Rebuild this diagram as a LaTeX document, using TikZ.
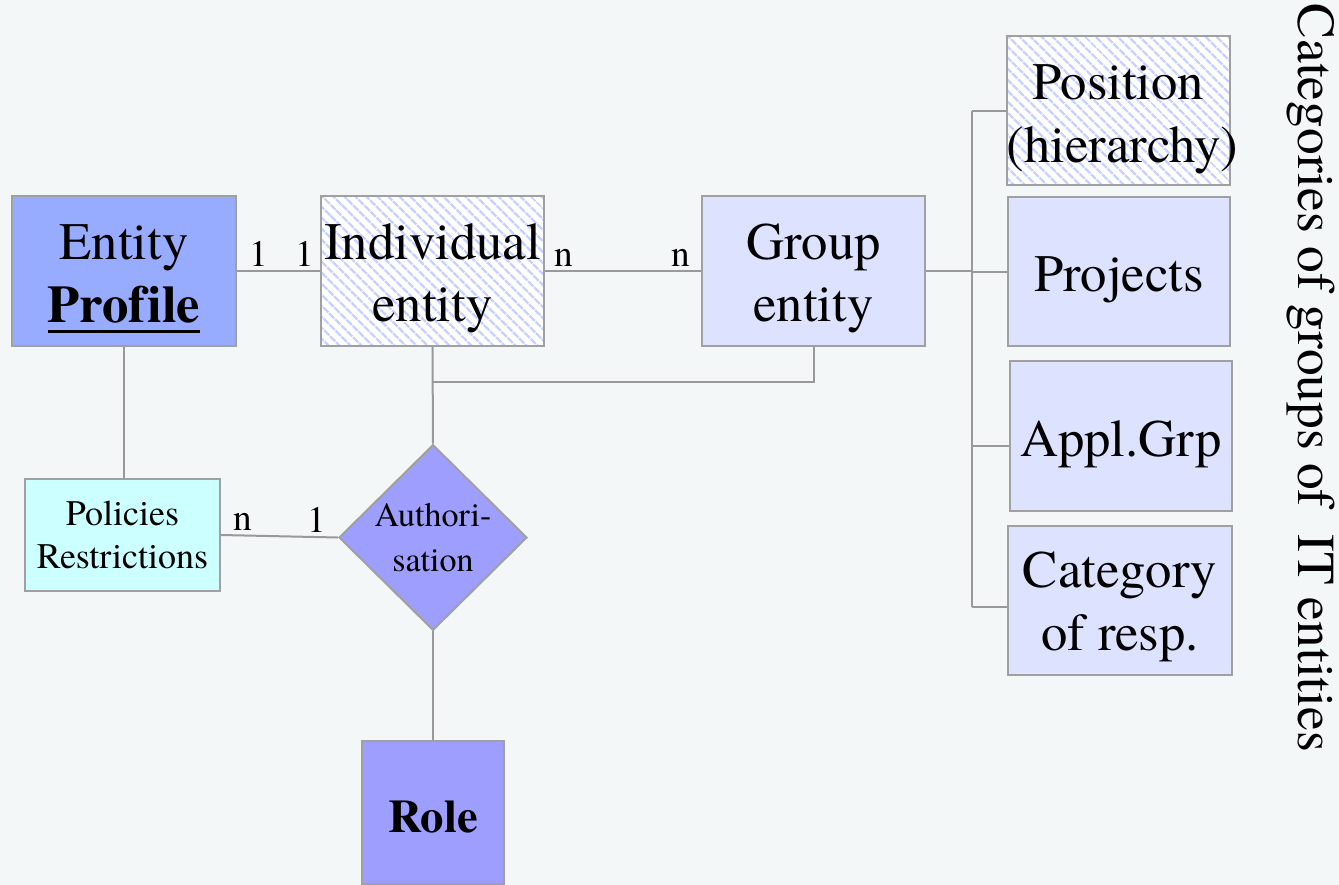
\documentclass[tikz,border=0pt]{standalone}
\usepackage{fontspec}
\setmainfont{texgyretermes}[Extension=.otf, UprightFont=*-regular, BoldFont=*-bold, Ligatures=NoCommon]
\usetikzlibrary{shapes.geometric,patterns.meta}

\definecolor{bg}{HTML}{F3F7F7}
\definecolor{profilefill}{HTML}{97ABFF}
\definecolor{groupfill}{HTML}{DDE3FF}
\definecolor{policyfill}{HTML}{CCFFFF}
\definecolor{rolefill}{HTML}{9E9EFF}
\definecolor{hatch}{HTML}{C8D2FF}
\definecolor{edgegray}{HTML}{A0A0A0}
\definecolor{linkgray}{HTML}{999999}

% bold word with a heavy underline
\newlength\ulwd
\newcommand\thickuline[1]{\settowidth{\ulwd}{#1}#1\llap{\rule[-0.2em]{\ulwd}{0.065em}}}
% tall first line, so that the text sits a little low in its box
\newcommand\topstrut[1][38pt]{\rule{0pt}{#1}}
% a line that may run past the box edges
\newcommand\overrun[1]{\makebox[0pt]{#1}}

\tikzset{
  box/.style={draw=edgegray, line width=1.5pt, align=center, inner sep=0pt,
              minimum width=167pt, minimum height=112pt,
              font=\fontsize{39.5}{47}\selectfont},
  solidbox/.style={box, fill=groupfill},
  hatchbox/.style={box, preaction={fill=white},
                   pattern={Lines[angle=-45,distance=6.5pt,line width=2.2pt]},
                   pattern color=hatch},
  link/.style={draw=linkgray, line width=1.5pt},
  card/.style={font=\fontsize{28}{30}\selectfont, anchor=south, inner sep=3pt}
}

\begin{document}
\begin{tikzpicture}[x=0.75pt, y=-0.75pt]
  \path[use as bounding box, fill=bg] (0,0) rectangle (1339,885);

  % entities
  \node[box, fill=profilefill, minimum width=168pt] (ent) at (124,271)
       {\topstrut Entity\\\textbf{\thickuline{Profile}}};
  \node[hatchbox] (ind) at (432.5,271) {\topstrut Individual\\entity};
  \node[solidbox] (grp) at (813.5,271) {\topstrut Group\\entity};

  % group categories
  \node[hatchbox, minimum height=111.75pt] (pos) at (1118.5,110.5)
       {\topstrut[39pt]Position\\\overrun{\hspace{6pt}(hierarchy)}};
  \node[solidbox, minimum width=166.5pt, minimum height=111.75pt] (prj) at (1119,271.5) {\topstrut Projects};
  \node[solidbox, minimum width=166.5pt] (apl) at (1121,436) {\topstrut[39pt]Appl.Grp};
  \node[solidbox, minimum width=168pt, minimum height=111.75pt] (cat) at (1120,600.5) {\topstrut[36pt]Category\\of resp.};

  % policies, authorisation, role
  \node[box, fill=policyfill, minimum width=146.25pt, minimum height=84pt,
        font=\fontsize{27}{32}\selectfont] (pol) at (122.5,535) {Policies\\Restrictions};
  \node[diamond, draw=edgegray, line width=1.5pt, fill=rolefill, inner sep=0pt,
        minimum width=141pt, minimum height=126.75pt, align=center,
        font=\fontsize{25.5}{34}\selectfont] (auth) at (433,537.5) {Authori-\\sation};
  \node[box, fill=rolefill, minimum width=106.5pt, minimum height=107.25pt,
        font=\fontsize{35}{40}\selectfont\bfseries] (role) at (433,812.5) {\topstrut[30pt]Role};

  % vertical caption
  \node[rotate=-90, inner sep=0pt, font=\fontsize{40}{47}\selectfont] (cap) at (1311,378)
       {Categories of groups of \ IT entities};

  % relationships
  \draw[link] (ent.east) -- node[card, pos=0.26]{1} node[card, pos=0.82]{1} (ind.west);
  \draw[link] (ind.east) -- node[card, pos=0.12]{n} node[card, pos=0.87]{n} (grp.west);
  \draw[link] (pol.east) -- node[card, pos=0.19]{n} node[card, pos=0.82]{1} (auth.west);
  \draw[link] (ind.south) -- (auth.north);
  \draw[link] (auth.south) -- (role.north);
  \draw[link] (ent.south) -- (ent.south |- pol.north);

  \coordinate (jn) at (432.5,382);
  \draw[link] (jn) -| (grp.south);

  % category bus
  \coordinate (bus) at (972,271);
  \draw[link] (grp.east) -- (bus);
  \draw[link] (pos.west -| bus) -- ([yshift=-4.9pt]cat.west -| bus);
  \draw[link] (pos.west) -- (pos.west -| bus);
  \draw[link] (prj.west) -- (prj.west -| bus);
  \draw[link] ([yshift=-7.5pt]apl.west) -- ([yshift=-7.5pt]apl.west -| bus);
  \draw[link] ([yshift=-4.9pt]cat.west) -- ([yshift=-4.9pt]cat.west -| bus);
\end{tikzpicture}
\end{document}
